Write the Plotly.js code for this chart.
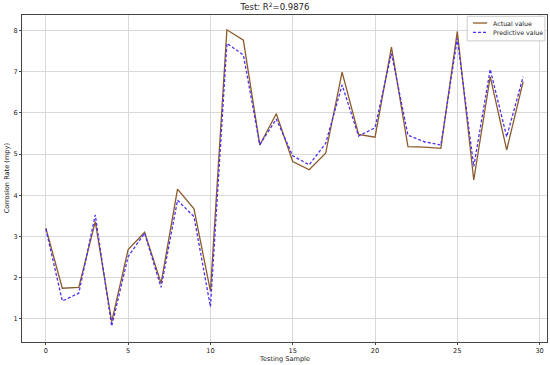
<!DOCTYPE html>
<html>
<head>
<meta charset="utf-8">
<script src="https://cdn.plot.ly/plotly-3.0.1.min.js"></script>
<style>
  html, body { margin: 0; padding: 0; background: #fff; }
  #chart { width: 550px; height: 365px; }
</style>
</head>
<body>
<div id="chart"></div>
<script>
// Test-set fit: actual vs predicted corrosion rate per sample.
const samples = Array.from({ length: 30 }, (_, i) => i);
const actual = [
  3.20, 1.74, 1.76, 3.36, 0.93, 2.68, 3.10, 1.86, 4.15, 3.67,
  1.67, 8.02, 7.77, 5.22, 5.98, 4.82, 4.62, 5.02, 6.99, 5.48,
  5.41, 7.60, 5.18, 5.17, 5.14, 7.98, 4.37, 6.88, 5.10, 6.76,
];
const predicted = [
  3.18, 1.43, 1.62, 3.52, 0.82, 2.51, 3.08, 1.76, 3.88, 3.48,
  1.29, 7.69, 7.41, 5.23, 5.85, 4.96, 4.74, 5.26, 6.68, 5.44,
  5.64, 7.45, 5.46, 5.30, 5.22, 7.81, 4.70, 7.06, 5.42, 6.88,
];
const seriesNames = ["Actual value", "Predictive value"];
const xTicks = [0, 5, 10, 15, 20, 25, 30];
const yTicks = [1, 2, 3, 4, 5, 6, 7, 8];

const font = { family: "DejaVu Sans, sans-serif", size: 6.6, color: "#222" };
const legendFont = { ...font, size: 6.3 };
const styles = [
  { color: "#8b5a2b", width: 1.3 },
  { color: "#4d2ff0", width: 1.3, dash: "3px,2px" },
];

const traces = [
  { x: samples, y: actual, type: "scatter", mode: "lines", name: seriesNames[0], line: styles[0] },
  { x: samples, y: predicted, type: "scatter", mode: "lines", name: seriesNames[1], line: styles[1] },
];

const axisCommon = {
  showline: true, mirror: true, linecolor: "#444", linewidth: 1,
  showgrid: true, gridcolor: "#d9d9d9", gridwidth: 1,
  zeroline: false, ticks: "outside", ticklen: 2, tickcolor: "#444",
  tickfont: font, automargin: false,
};

// matplotlib-style compact legend, drawn in paper coordinates (top right)
const shapes = [
  { type: "rect", xref: "paper", yref: "paper", x0: 0.848, x1: 0.996, y0: 0.921, y1: 0.996,
    line: { color: "#cccccc", width: 1 }, fillcolor: "rgba(255,255,255,0.85)", layer: "above" },
];
const annotations = [];
const legendRows = [0.9755, 0.947];
seriesNames.forEach((name, i) => {
  shapes.push({ type: "line", xref: "paper", yref: "paper", x0: 0.859, x1: 0.886,
    y0: legendRows[i], y1: legendRows[i], line: styles[i], layer: "above" });
  annotations.push({ xref: "paper", yref: "paper", x: 0.893, y: legendRows[i],
    xanchor: "left", yanchor: "middle", showarrow: false, text: name, font: legendFont });
});
annotations.push(
  { xref: "paper", yref: "paper", x: 0.5, y: -0.053, xanchor: "center", yanchor: "middle",
    showarrow: false, text: "Testing Sample", font },
  { xref: "paper", yref: "paper", x: -0.029, y: 0.5, xanchor: "center", yanchor: "middle",
    showarrow: false, text: "Corrosion Rate (mpy)", textangle: -90, font },
);

const layout = {
  width: 550, height: 365,
  margin: { t: 15, r: 3, b: 23, l: 22 },
  paper_bgcolor: "white",
  plot_bgcolor: "white",
  font,
  title: {
    text: "Test: R<sup>2</sup>=0.9876",
    font: { family: "DejaVu Sans, sans-serif", size: 8.5, color: "#222" },
    x: 0.5, xanchor: "center", y: 0.988, yanchor: "top",
  },
  xaxis: { ...axisCommon, range: [-1.45, 30.45], tickvals: xTicks },
  yaxis: { ...axisCommon, range: [0.434, 8.38], tickvals: yTicks },
  showlegend: false,
  shapes,
  annotations,
};

Plotly.newPlot("chart", traces, layout, { displayModeBar: false, staticPlot: true });
</script>
</body>
</html>
